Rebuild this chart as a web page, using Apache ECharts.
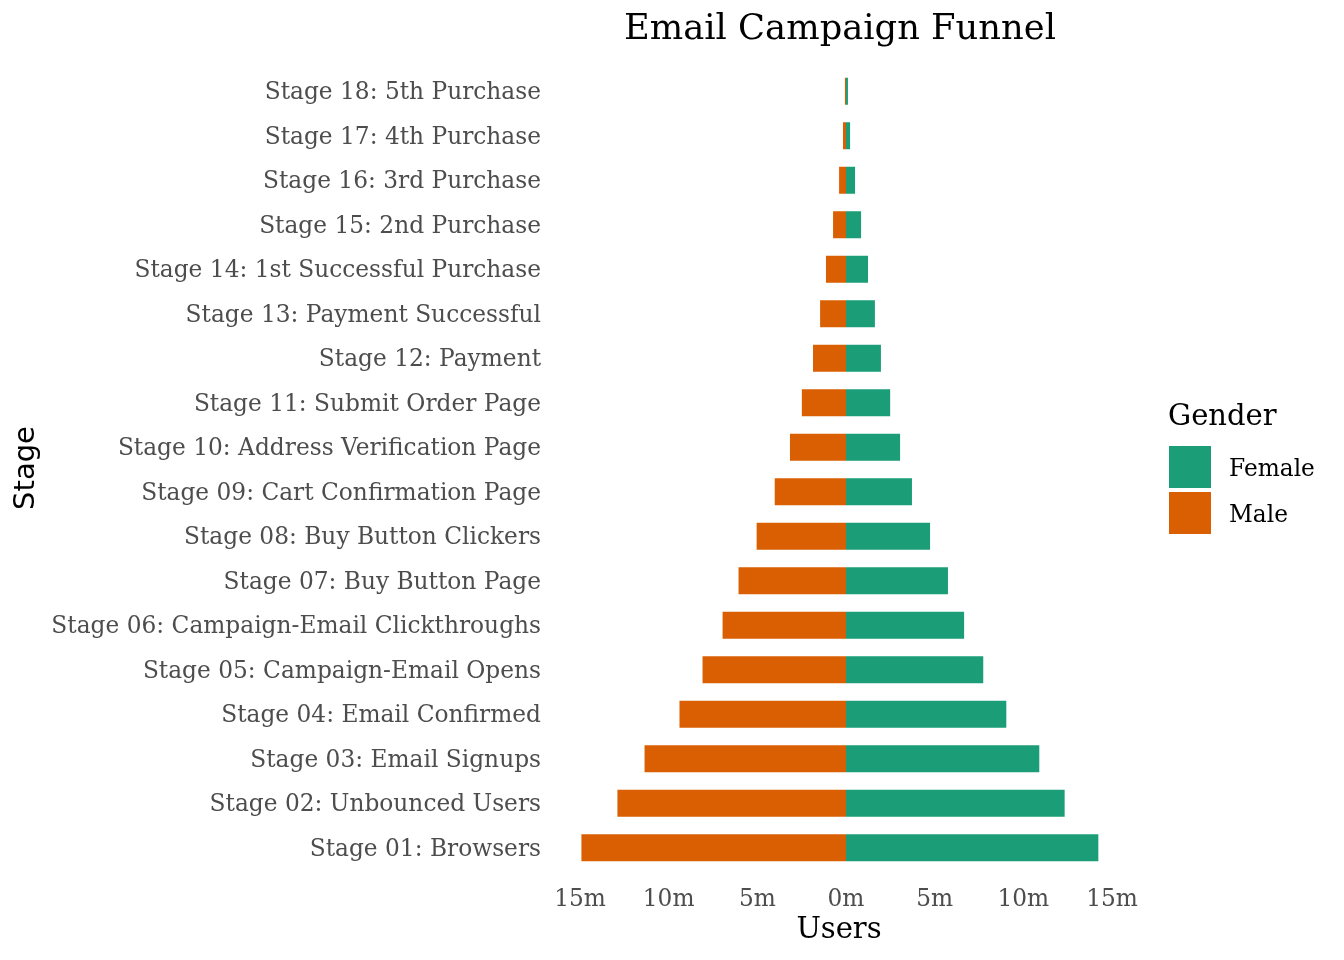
<!DOCTYPE html>
<html>
<head>
<meta charset="utf-8">
<script src="https://cdn.jsdelivr.net/npm/echarts@6/dist/echarts.min.js"></script>
<style>
html,body{margin:0;padding:0;background:#fff;}
#chart{width:1344px;height:960px;}
</style>
</head>
<body>
<div id="chart"></div>
<script>
const stages = [
  "Stage 01: Browsers",
  "Stage 02: Unbounced Users",
  "Stage 03: Email Signups",
  "Stage 04: Email Confirmed",
  "Stage 05: Campaign-Email Opens",
  "Stage 06: Campaign-Email Clickthroughs",
  "Stage 07: Buy Button Page",
  "Stage 08: Buy Button Clickers",
  "Stage 09: Cart Confirmation Page",
  "Stage 10: Address Verification Page",
  "Stage 11: Submit Order Page",
  "Stage 12: Payment",
  "Stage 13: Payment Successful",
  "Stage 14: 1st Successful Purchase",
  "Stage 15: 2nd Purchase",
  "Stage 16: 3rd Purchase",
  "Stage 17: 4th Purchase",
  "Stage 18: 5th Purchase"
];
// users in millions
const femaleUsers = [14.23, 12.33, 10.90, 9.04, 7.74, 6.66, 5.75, 4.74, 3.72, 3.05, 2.49, 1.97, 1.63, 1.24, 0.85, 0.51, 0.23, 0.11];
const maleUsers   = [14.92, 12.89, 11.36, 9.39, 8.09, 6.96, 6.06, 5.04, 4.02, 3.16, 2.49, 1.86, 1.46, 1.13, 0.73, 0.39, 0.17, 0.06];
const xTicks = [-15, -10, -5, 0, 5, 10, 15];

const SERIF = '"DejaVu Serif", serif';
const SANS = '"DejaVu Sans", sans-serif';

const chart = echarts.init(document.getElementById('chart'), null, {renderer: 'canvas'});
chart.setOption({
  animation: false,
  backgroundColor: '#ffffff',
  grid: {left: 580, width: 532, top: 69, bottom: 90, containLabel: false},
  xAxis: {
    type: 'value',
    min: xTicks[0],
    max: xTicks[xTicks.length - 1],
    interval: 5,
    axisLine: {show: false},
    axisTick: {show: false},
    splitLine: {show: false},
    axisLabel: {
      margin: 18,
      fontFamily: SERIF,
      fontSize: 23.3,
      color: '#4d4d4d',
      formatter: v => Math.abs(v) + 'm'
    }
  },
  yAxis: {
    type: 'category',
    data: stages,
    axisLine: {show: false},
    axisTick: {show: false},
    splitLine: {show: false},
    axisLabel: {
      margin: 39,
      formatter: v => '{a|' + v + '}',
      rich: {
        a: {fontFamily: SERIF, fontSize: 23.3, color: '#4d4d4d', padding: [4, 0, 0, 0]}
      }
    }
  },
  legend: {
    orient: 'vertical',
    left: 1169,
    top: 446,
    padding: 0,
    itemWidth: 42,
    itemHeight: 42,
    itemGap: 4,
    icon: 'rect',
    data: ['Female', 'Male'],
    formatter: '{a|{name}}',
    textStyle: {
      fontFamily: SERIF, fontSize: 23.3, color: '#000',
      rich: {a: {fontFamily: SERIF, fontSize: 23.3, color: '#000', padding: [6, 0, 0, 13]}}
    }
  },
  graphic: [
    {type: 'text', style: {text: 'Email Campaign Funnel', x: 840, y: 30, font: '35.3px ' + SERIF, fill: '#000', textAlign: 'center', textVerticalAlign: 'middle'}},
    {type: 'text', style: {text: 'Users', x: 839, y: 930, font: '29px ' + SERIF, fill: '#000', textAlign: 'center', textVerticalAlign: 'middle'}},
    {type: 'text', x: 26, y: 468, rotation: Math.PI / 2, style: {text: 'Stage', x: 0, y: 0, font: '29px ' + SANS, fill: '#000', textAlign: 'center', textVerticalAlign: 'middle'}},
    {type: 'text', style: {text: 'Gender', x: 1168, y: 417, font: '29px ' + SERIF, fill: '#000', textAlign: 'left', textVerticalAlign: 'middle'}}
  ],
  series: [
    {
      name: 'Female',
      type: 'bar',
      stack: 'users',
      barWidth: 27,
      itemStyle: {color: '#1b9e77'},
      data: femaleUsers
    },
    {
      name: 'Male',
      type: 'bar',
      stack: 'users',
      barWidth: 27,
      itemStyle: {color: '#d95f02'},
      data: maleUsers.map(v => -v)
    }
  ]
});
</script>
</body>
</html>
